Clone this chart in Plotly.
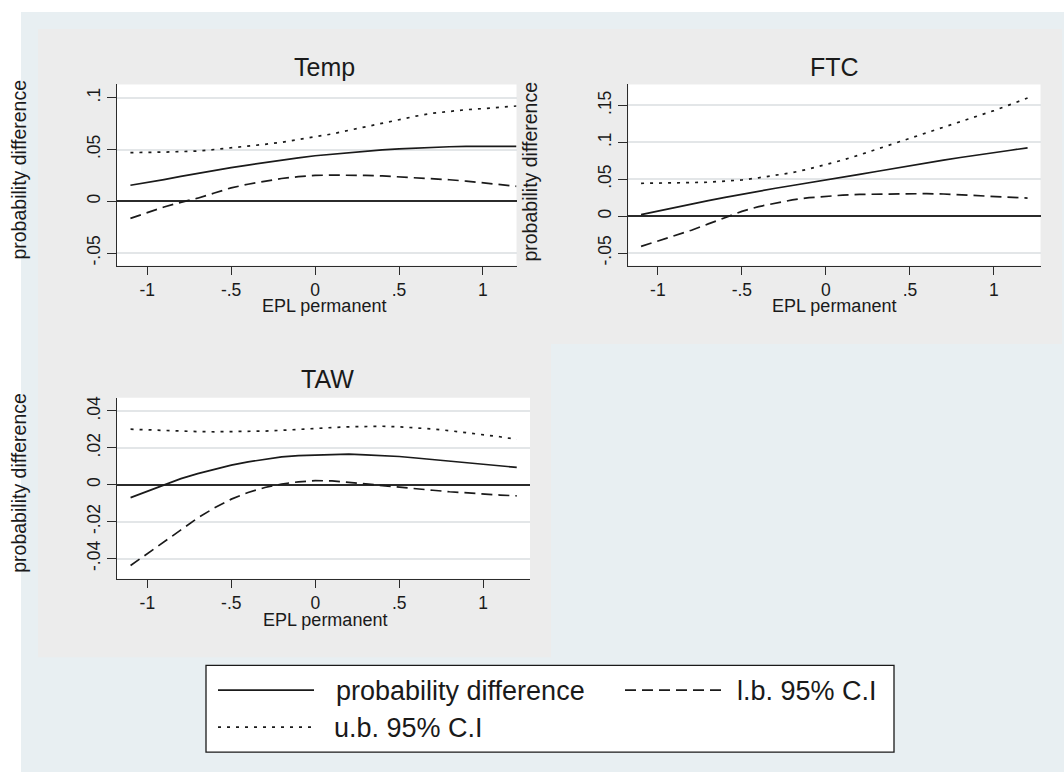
import plotly.graph_objects as go

# Evaluation grid of EPL permanent
epl = [-1.1, -1.0, -0.9, -0.8, -0.7, -0.6, -0.5, -0.4, -0.3, -0.2, -0.1, 0.0,
       0.1, 0.2, 0.3, 0.4, 0.5, 0.6, 0.7, 0.8, 0.9, 1.0, 1.1, 1.2]

# Temp
temp_pd = [0.0155, 0.018, 0.021, 0.024, 0.027, 0.030, 0.0325, 0.035, 0.0375, 0.040, 0.042, 0.044,
           0.0455, 0.047, 0.0485, 0.0497, 0.0507, 0.0515, 0.0523, 0.0527, 0.053, 0.053, 0.053, 0.053]
temp_lb = [-0.0165, -0.011, -0.0055, -0.001, 0.003, 0.008, 0.013, 0.0165, 0.0195, 0.022, 0.0238, 0.025,
           0.0253, 0.0253, 0.025, 0.0245, 0.0237, 0.0228, 0.0218, 0.0208, 0.0195, 0.018, 0.016, 0.0145]
temp_ub = [0.047, 0.047, 0.0475, 0.048, 0.0485, 0.050, 0.0515, 0.053, 0.055, 0.057, 0.0595, 0.062,
           0.065, 0.0685, 0.072, 0.0755, 0.079, 0.0822, 0.085, 0.087, 0.0885, 0.0895, 0.0907, 0.092]

# FTC
ftc_pd = [0.002, 0.007, 0.012, 0.017, 0.021, 0.0255, 0.0298, 0.034, 0.0378, 0.0415, 0.045, 0.0485,
          0.0525, 0.0565, 0.0605, 0.0645, 0.069, 0.0725, 0.076, 0.0795, 0.083, 0.086, 0.0893, 0.0925]
ftc_lb = [-0.041, -0.034, -0.0265, -0.019, -0.0105, -0.002, 0.0065, 0.013, 0.018, 0.022, 0.025, 0.027,
          0.0285, 0.0295, 0.030, 0.0305, 0.0307, 0.0305, 0.030, 0.029, 0.028, 0.0275, 0.026, 0.0245]
ftc_ub = [0.0445, 0.0445, 0.0445, 0.0455, 0.046, 0.047, 0.049, 0.052, 0.055, 0.059, 0.064, 0.0695,
          0.076, 0.083, 0.0905, 0.098, 0.1055, 0.113, 0.1205, 0.128, 0.1355, 0.143, 0.1515, 0.160]

# TAW
taw_pd = [-0.007, -0.0035, 0.0002, 0.0033, 0.006, 0.0085, 0.0106, 0.0124, 0.0139, 0.0151, 0.0158, 0.0162,
          0.0165, 0.0166, 0.0162, 0.0158, 0.0153, 0.0145, 0.0136, 0.0128, 0.012, 0.0113, 0.0104, 0.0094]
taw_lb = [-0.0438, -0.0375, -0.031, -0.0245, -0.018, -0.0125, -0.0078, -0.0042, -0.0015, 0.0004, 0.0016, 0.0022,
          0.0021, 0.0015, 0.0005, -0.0005, -0.0012, -0.002, -0.003, -0.0038, -0.0045, -0.005, -0.0056, -0.006]
taw_ub = [0.0301, 0.0297, 0.0293, 0.029, 0.0288, 0.0287, 0.0287, 0.0288, 0.0291, 0.0295, 0.0301, 0.0306,
          0.031, 0.0314, 0.0317, 0.0317, 0.0314, 0.0309, 0.0302, 0.0293, 0.0283, 0.0273, 0.026, 0.0246]

panel_titles = ["Temp", "FTC", "TAW"]
x_tickvals = [-1, -0.5, 0, 0.5, 1]
x_ticktext = ["-1", "-.5", "0", ".5", "1"]
temp_yticks = [-0.05, 0, 0.05, 0.1]
temp_ytext = ["-.05", "0", ".05", ".1"]
ftc_yticks = [-0.05, 0, 0.05, 0.1, 0.15]
ftc_ytext = ["-.05", "0", ".05", ".1", ".15"]
taw_yticks = [-0.04, -0.02, 0, 0.02, 0.04]
taw_ytext = ["-.04", "-.02", "0", ".02", ".04"]
series_names = ["probability difference", "l.b. 95% C.I", "u.b. 95% C.I"]

W, H = 1064, 772
FONT = "Liberation Sans, Arial, sans-serif"
INK = "#1a1a1a"
AXIS = "#2b2b2b"
GRID = "#e3e6e8"
OUTER = "#e8eff2"
REGION = "#ececec"


def px(x):
    return x / W


def py(y):
    return 1 - y / H


# plot-area boxes in pixels: (left, right, top, bottom)
boxes = [(117, 516.5, 82.7, 264.3), (628.3, 1040.5, 82.7, 264.3), (116.8, 530, 396.7, 578.3)]
xranges = [[-1.18, 1.2], [-1.176, 1.277], [-1.182, 1.279]]
yranges = [[-0.0621, 0.1128], [-0.067, 0.1784], [-0.051, 0.0472]]
yticks = [(temp_yticks, temp_ytext), (ftc_yticks, ftc_ytext), (taw_yticks, taw_ytext)]
series = [(temp_pd, temp_lb, temp_ub), (ftc_pd, ftc_lb, ftc_ub), (taw_pd, taw_lb, taw_ub)]

SOLID = "solid"
DASH = "11px,6px"
DOT = "3px,6px"

fig = go.Figure()

for i, (pd_, lb, ub) in enumerate(series):
    suffix = "" if i == 0 else str(i + 1)
    for ys, dash, name in ((pd_, SOLID, series_names[0]), (lb, DASH, series_names[1]), (ub, DOT, series_names[2])):
        fig.add_trace(go.Scatter(
            x=epl, y=ys, mode="lines", name=name, showlegend=False,
            line=dict(color=INK, width=1.7, dash=dash),
            xaxis="x" + suffix, yaxis="y" + suffix,
        ))

layout = dict(
    width=W, height=H,
    margin=dict(l=0, r=0, t=0, b=0),
    paper_bgcolor="white",
    plot_bgcolor="white",
    font=dict(family=FONT, color=INK, size=17),
    showlegend=False,
)

for i, (l, r, t, b) in enumerate(boxes):
    suffix = "" if i == 0 else str(i + 1)
    tv, tt = yticks[i]
    layout["xaxis" + suffix] = dict(
        domain=[px(l), px(r)], anchor="y" + suffix, range=xranges[i],
        tickvals=x_tickvals, ticktext=x_ticktext, ticks="outside", ticklen=8,
        tickwidth=1.3, tickcolor=AXIS, showline=True, linecolor=AXIS, linewidth=1.3,
        showgrid=False, zeroline=False, tickfont=dict(size=17.5, family=FONT, color=INK),
    )
    layout["yaxis" + suffix] = dict(
        domain=[py(b), py(t)], anchor="x" + suffix, range=yranges[i],
        tickvals=tv, ticktext=tt, ticks="outside", ticklen=9, tickangle=-90,
        tickwidth=1.3, tickcolor=AXIS, showline=True, linecolor=AXIS, linewidth=1.3,
        showgrid=True, gridcolor=GRID, gridwidth=1.6,
        zeroline=True, zerolinecolor=AXIS, zerolinewidth=1.5,
        tickfont=dict(size=17.5, family=FONT, color=INK),
    )

fig.update_layout(**layout)

# Graph region backgrounds
shapes = [
    dict(type="rect", xref="paper", yref="paper", x0=px(21), x1=px(1064), y0=py(772), y1=py(10),
         fillcolor=OUTER, line=dict(width=0), layer="below"),
    dict(type="rect", xref="paper", yref="paper", x0=px(38), x1=px(1062), y0=py(343), y1=py(27),
         fillcolor=REGION, line=dict(width=0), layer="below"),
    dict(type="rect", xref="paper", yref="paper", x0=px(38), x1=px(551), y0=py(657), y1=py(343),
         fillcolor=REGION, line=dict(width=0), layer="below"),
]
# White plot regions on top of the graph-region fill
for l, r, t, b in boxes:
    shapes.append(dict(type="rect", xref="paper", yref="paper", x0=px(l), x1=px(r),
                       y0=py(b), y1=py(t), fillcolor="white", line=dict(width=0), layer="below"))

# Legend box and keys
LEG_L, LEG_R, LEG_T, LEG_B = 206, 894, 665, 752
shapes.append(dict(type="rect", xref="paper", yref="paper", x0=px(LEG_L), x1=px(LEG_R),
                   y0=py(LEG_B), y1=py(LEG_T), fillcolor="white",
                   line=dict(color=INK, width=1.3), layer="above"))
legend_keys = [(218, 314, 690, SOLID, series_names[0], 334),
               (625, 725, 690, DASH, series_names[1], 735),
               (218, 314, 727, DOT, series_names[2], 332)]
annotations = []
for x0, x1, yk, dash, label, tx in legend_keys:
    shapes.append(dict(type="line", xref="paper", yref="paper", x0=px(x0), x1=px(x1),
                       y0=py(yk), y1=py(yk), line=dict(color=INK, width=1.8, dash=dash)))
    annotations.append(dict(x=px(tx), y=py(yk + 1), xref="paper", yref="paper", text=label,
                            showarrow=False, xanchor="left", yanchor="middle",
                            font=dict(size=27, family=FONT, color=INK)))

# Panel titles, axis titles
title_pos = [(324, 65), (834, 65), (327, 378)]
for (cx, cy), ttl in zip(title_pos, panel_titles):
    annotations.append(dict(x=px(cx), y=py(cy), xref="paper", yref="paper", text=ttl,
                            showarrow=False, xanchor="center", yanchor="middle",
                            font=dict(size=25, family=FONT, color=INK)))

xtitle_pos = [(324, 305), (834, 305), (325, 620)]
for cx, cy in xtitle_pos:
    annotations.append(dict(x=px(cx), y=py(cy), xref="paper", yref="paper", text="EPL permanent",
                            showarrow=False, xanchor="center", yanchor="middle",
                            font=dict(size=18, family=FONT, color=INK)))

ytitle_pos = [(19, 168), (530, 170), (19, 482)]
for cx, cy in ytitle_pos:
    annotations.append(dict(x=px(cx), y=py(cy), xref="paper", yref="paper",
                            text="probability difference", textangle=-90,
                            showarrow=False, xanchor="center", yanchor="middle",
                            font=dict(size=19.5, family=FONT, color=INK)))

fig.update_layout(shapes=shapes, annotations=annotations)

fig.write_html("out.html")
